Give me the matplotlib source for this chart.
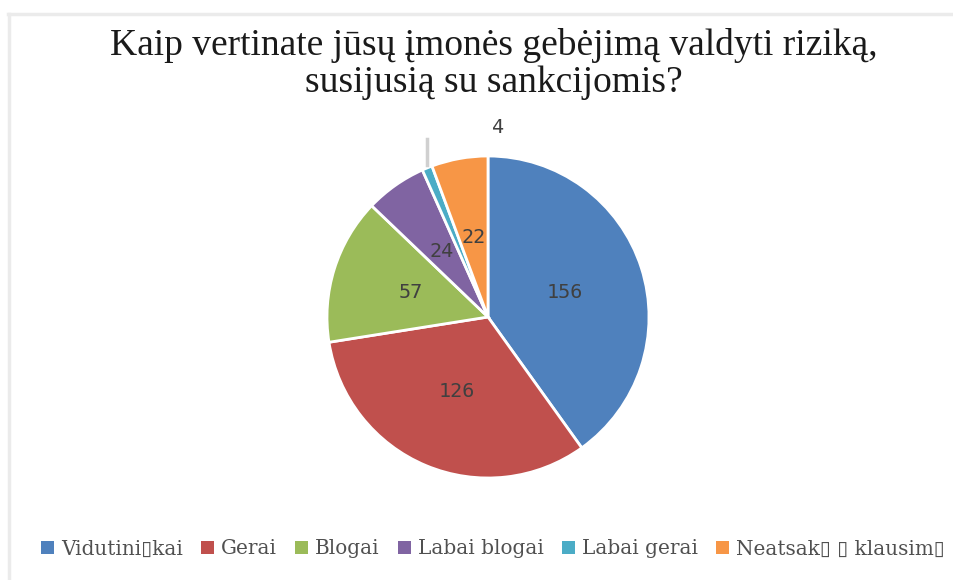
# Pie chart: risk management ability related to sanctions
import numpy as np
import matplotlib
matplotlib.use('Agg')
import matplotlib.pyplot as plt
from matplotlib.patches import Patch
from matplotlib.lines import Line2D

# Data
box = '\u25af'  # the source shows missing-glyph boxes in the legend
categories = ['Vidutini' + box + 'kai', 'Gerai', 'Blogai', 'Labai blogai', 'Labai gerai',
              'Neatsak' + box + ' ' + box + ' klausim' + box]
values = [156, 126, 57, 24, 4, 22]
colors = ['#4F81BD', '#C0504D', '#9BBB59', '#8064A2', '#4BACC6', '#F79646']
outside_label = 'Labai gerai'

title = 'Kaip vertinate jūsų įmonės gebėjimą valdyti riziką,\nsusijusią su sankcijomis?'

fig = plt.figure(figsize=(9.54, 5.8), dpi=100)
W, H = 954, 580

# pie axes, centre (488, 317) px, radius 161 px
cx, cy, r = 488, 317, 161
lim = 1.1
ax = fig.add_axes([(cx - r * lim) / W, (H - cy - r * lim) / H, 2 * r * lim / W, 2 * r * lim / H])

wedges, _ = ax.pie(values, colors=colors, startangle=90, counterclock=False, radius=1,
                   wedgeprops=dict(edgecolor='white', linewidth=2))
ax.set_xlim(-lim, lim)
ax.set_ylim(-lim, lim)
ax.set_aspect('equal')
ax.axis('off')

# value labels inside the wedges, outside for the small one
lbl = dict(ha='center', va='center', fontsize=14.5, color='#404040', family='DejaVu Sans Mono')
for w, v, cat in zip(wedges, values, categories):
    mid = np.deg2rad((w.theta1 + w.theta2) / 2)
    if cat == outside_label:
        x0, y0 = np.cos(mid), np.sin(mid)
        ax.plot([x0, x0], [y0 + 0.02, y0 + 0.18], color='#d0d0d0', lw=2.5, clip_on=False)
        ax.text(x0 + 0.44, y0 + 0.25, str(v), **lbl)
    else:
        ax.text(0.5 * np.cos(mid), 0.5 * np.sin(mid), str(v), **lbl)

# title
fig.text(494 / W, 1 - 64 / H, title, ha='center', va='center', fontsize=27,
         family='Liberation Serif', color='#1a1a1a', linespacing=1.12)

# legend
handles = [Patch(facecolor=c, edgecolor='none') for c in colors]
fig.legend(handles, categories, loc='center', bbox_to_anchor=(493 / W, 31 / H), ncol=6,
           frameon=False, handlelength=0.65, handleheight=0.65, handletextpad=0.35,
           columnspacing=0.9, prop={'family': ['DejaVu Serif', 'DejaVu Sans'], 'size': 14.4},
           labelcolor='#505050')

# light frame on top and left edges
fig.add_artist(Line2D([8 / W, 1], [1 - 14 / H, 1 - 14 / H], color='#ebebeb', lw=2.5,
                      transform=fig.transFigure))
fig.add_artist(Line2D([9.5 / W, 9.5 / W], [0, 1 - 14 / H], color='#ebebeb', lw=2.5,
                      transform=fig.transFigure))

fig.savefig('out.png', dpi=100, facecolor='white')
